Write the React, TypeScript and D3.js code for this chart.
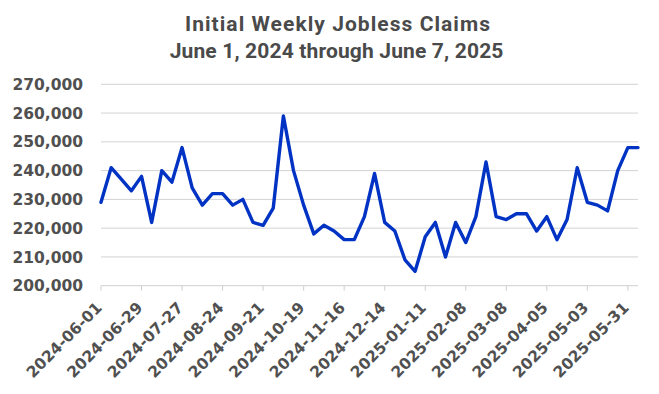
import React from "react";
import * as d3 from "d3";

const dates: string[] = [
  "2024-06-01","2024-06-08","2024-06-15","2024-06-22","2024-06-29",
  "2024-07-06","2024-07-13","2024-07-20","2024-07-27",
  "2024-08-03","2024-08-10","2024-08-17","2024-08-24","2024-08-31",
  "2024-09-07","2024-09-14","2024-09-21","2024-09-28",
  "2024-10-05","2024-10-12","2024-10-19","2024-10-26",
  "2024-11-02","2024-11-09","2024-11-16","2024-11-23","2024-11-30",
  "2024-12-07","2024-12-14","2024-12-21","2024-12-28",
  "2025-01-04","2025-01-11","2025-01-18","2025-01-25",
  "2025-02-01","2025-02-08","2025-02-15","2025-02-22",
  "2025-03-01","2025-03-08","2025-03-15","2025-03-22","2025-03-29",
  "2025-04-05","2025-04-12","2025-04-19","2025-04-26",
  "2025-05-03","2025-05-10","2025-05-17","2025-05-24","2025-05-31",
  "2025-06-07",
];

const claims: number[] = [
  229000, 241000, 237000, 233000, 238000,
  222000, 240000, 236000, 248000,
  234000, 228000, 232000, 232000, 228000,
  230000, 222000, 221000, 227000,
  259000, 240000, 228000, 218000,
  221000, 219000, 216000, 216000, 224000,
  239000, 222000, 219000, 209000,
  205000, 217000, 222000, 210000,
  222000, 215000, 224000, 243000,
  224000, 223000, 225000, 225000, 219000,
  224000, 216000, 223000, 241000,
  229000, 228000, 226000, 240000, 248000,
  248000,
];

const tickLabels: string[] = [
  "2024-06-01","2024-06-29","2024-07-27","2024-08-24","2024-09-21",
  "2024-10-19","2024-11-16","2024-12-14","2025-01-11","2025-02-08",
  "2025-03-08","2025-04-05","2025-05-03","2025-05-31",
];

const yTicks: number[] = [200000, 210000, 220000, 230000, 240000, 250000, 260000, 270000];

const title = "Initial Weekly Jobless Claims";
const subtitle = "June 1, 2024 through June 7, 2025";

export default function App() {
  const W = 659, H = 394;
  const left = 101, right = 638, top = 84.3, bottom = 285.7;
  const x = d3.scalePoint<string>().domain(dates).range([left, right]).padding(0);
  const y = d3.scaleLinear().domain([200000, 270000]).range([bottom, top]);
  const line = d3.line<number>().x((_, i) => x(dates[i])!).y((d) => y(d));
  const fmt = d3.format(",");
  const tickFont = "'DejaVu Sans', sans-serif";
  const titleFont = "Roboto, sans-serif";
  return (
    <svg width={W} height={H} style={{ position: "absolute", left: 0, top: 0, background: "#fff" }}>
      <text x={338} y={31} textAnchor="middle" fontFamily={titleFont} fontWeight={700} fontSize={21} letterSpacing={1.05} fill="#4a4a4a">{title}</text>
      <text x={336.6} y={57.5} textAnchor="middle" fontFamily={titleFont} fontWeight={700} fontSize={21} letterSpacing={0.15} fill="#4a4a4a">{subtitle}</text>
      {yTicks.map((t) => (
        <g key={t}>
          {t !== 200000 && (
            <line x1={left} x2={right} y1={y(t)} y2={y(t)} stroke="#d3d3d3" strokeWidth={1} />
          )}
          <text x={83} y={y(t)} dy="0.36em" textAnchor="end" fontFamily={tickFont} fontWeight={700} fontSize={15.5} fill="#505050">{fmt(t)}</text>
        </g>
      ))}
      <line x1={left} x2={right} y1={bottom} y2={bottom} stroke="#cfcfcf" strokeWidth={1} />
      {tickLabels.map((d) => (
        <g key={d}>
          <line x1={x(d)} x2={x(d)} y1={bottom} y2={bottom + 5} stroke="#cfcfcf" strokeWidth={1} />
          <text transform={`translate(${x(d)! + 2},${bottom + 23}) rotate(-45)`} textAnchor="end" fontFamily={tickFont} fontWeight={700} fontSize={15.5} fill="#505050">{d}</text>
        </g>
      ))}
      <path d={line(claims) || ""} fill="none" stroke="#0033c4" strokeWidth={3.4} strokeLinejoin="round" strokeLinecap="round" />
    </svg>
  );
}
